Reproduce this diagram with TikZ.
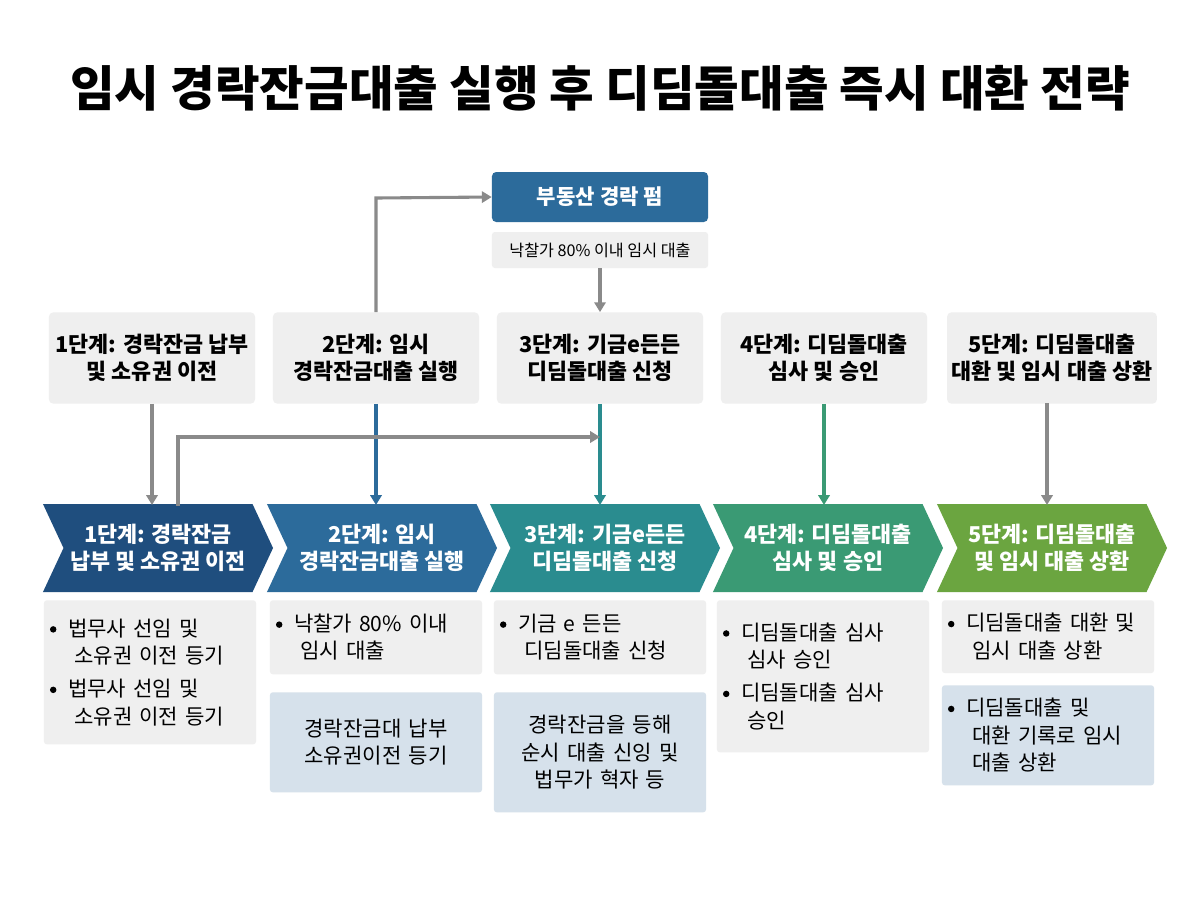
\documentclass[tikz,border=0pt]{standalone}
\usepackage{fontspec}
\setmainfont{Noto Sans CJK KR}
\usetikzlibrary{shapes.symbols,positioning,arrows.meta}
\definecolor{stepa}{HTML}{1F4E7E}
\definecolor{stepb}{HTML}{2C6B9B}
\definecolor{stepc}{HTML}{2A8C8F}
\definecolor{stepd}{HTML}{3A9A74}
\definecolor{stepe}{HTML}{6BA540}
\definecolor{boxgray}{HTML}{EFEFEF}
\definecolor{boxblue}{HTML}{D6E1EB}
\definecolor{linegray}{HTML}{8A8A8A}
\newcommand{\bul}{\tikz[baseline=-0.6ex]\fill (0,0) circle (2.3pt);\hspace{0.55em}}
\newcommand{\ind}{\hspace*{1.15em}}
\tikzset{
  topbox/.style={draw=none, fill=boxgray, rounded corners=3pt, minimum width=5.15cm, minimum height=2.28cm, align=center, font=\fontsize{15.5}{19}\selectfont\bfseries},
  chev/.style={signal, signal to=east, signal from=west, signal pointer angle=130, fill=#1, text=white, minimum width=5.75cm, minimum height=2.2cm, inner sep=0pt, align=center, font=\fontsize{15.5}{19}\selectfont\bfseries},
  detail/.style={fill=#1, rounded corners=2pt, text width=5cm, inner sep=0.15cm, anchor=north, font=\fontsize{15}{19.5}\selectfont},
  link/.style={line width=2.2pt, draw=#1, -{Triangle[length=7pt,width=8pt]}},
}
\begin{document}
\begin{tikzpicture}[x=0.025cm,y=-0.025cm]
  \useasboundingbox[fill=white] (0,0) rectangle (1200,896);
  \node[font=\fontsize{34.5}{40}\selectfont\bfseries] (title) at (600,88) {임시 경락잔금대출 실행 후 디딤돌대출 즉시 대환 전략};

  % top source
  \node[fill=stepb, text=white, rounded corners=3pt, minimum width=5.4cm, minimum height=1.25cm, font=\fontsize{15}{18}\selectfont\bfseries] (src) at (600,197) {부동산 경락 펌};
  \node[fill=boxgray, rounded corners=2pt, minimum width=5.4cm, minimum height=0.9cm, font=\fontsize{11.5}{14}\selectfont] (srcnote) at (600,250) {낙찰가 80\% 이내 임시 대출};

  % upper steps
  \node[topbox] (t1) at (152,358) {1단계: 경락잔금 납부\\및 소유권 이전};
  \node[topbox] (t2) at (376,358) {2단계: 임시\\경락잔금대출 실행};
  \node[topbox] (t3) at (600,358) {3단계: 기금e든든\\디딤돌대출 신청};
  \node[topbox] (t4) at (824,358) {4단계: 디딤돌대출\\심사 및 승인};
  \node[topbox] (t5) at (1052,358) {5단계: 디딤돌대출\\대환 및 임시 대출 상환};

  % chevrons
  \node[chev=stepa] (c1) at (158,548) {1단계: 경락잔금\\납부 및 소유권 이전};
  \node[chev=stepb] (c2) at (382,548) {2단계: 임시\\경락잔금대출 실행};
  \node[chev=stepc] (c3) at (605,548) {3단계: 기금e든든\\디딤돌대출 신청};
  \node[chev=stepd] (c4) at (828,548) {4단계: 디딤돌대출\\심사 및 승인};
  \node[chev=stepe] (c5) at (1052,548) {5단계: 디딤돌대출\\및 임시 대출 상환};

  % details
  \node[detail=boxgray, minimum height=3.6cm] (d1) at (150,600) {\bul 법무사 선임 및\\\ind 소유권 이전 등기\\[4pt]\bul 법무사 선임 및\\\ind 소유권 이전 등기};
  \node[detail=boxgray, minimum height=1.85cm] (d2) at (376,600) {\bul 낙찰가 80\% 이내\\\ind 임시 대출};
  \node[detail=boxblue, minimum height=2.5cm, align=center] (e2) at (376,692) {경락잔금대 납부\\소유권이전 등기};
  \node[detail=boxgray, minimum height=1.85cm] (d3) at (600,600) {\bul 기금 e 든든\\\ind 디딤돌대출 신청};
  \node[detail=boxblue, minimum height=3cm, align=center] (e3) at (600,692) {경락잔금을 등해\\순시 대출 신잉 및\\법무가 혁자 등};
  \node[detail=boxgray, minimum height=3.8cm] (d4) at (823,600) {\bul 디딤돌대출 심사\\\ind 심사 승인\\[4pt]\bul 디딤돌대출 심사\\\ind 승인};
  \node[detail=boxgray, minimum height=1.82cm] (d5) at (1048,600) {\bul 디딤돌대출 대환 및\\\ind 임시 대출 상환};
  \node[detail=boxblue, minimum height=2.5cm] (e5) at (1048,685) {\bul 디딤돌대출 및\\\ind 대환 기록로 임시\\\ind 대출 상환};

  % connectors
  \coordinate (bend2) at (376,198);
  \draw[link=linegray] (t2.north) -- (bend2) -- (src.west);
  \draw[link=linegray] (srcnote.south) -- (t3.north);
  \draw[link=linegray] (t1.south) -- (152,505);
  \draw[link=stepb] (t2.south) -- (376,505);
  \draw[link=stepc] (t3.south) -- (600,505);
  \draw[link=stepd] (t4.south) -- (824,505);
  \draw[link=linegray] (1047,403) -- (1047,505);
  \coordinate (up1) at (178,506);
  \coordinate (corner1) at (178,437);
  \coordinate (hit3) at (600,437);
  \draw[link=linegray] (up1) -- (corner1) -- (hit3);
\end{tikzpicture}
\end{document}
